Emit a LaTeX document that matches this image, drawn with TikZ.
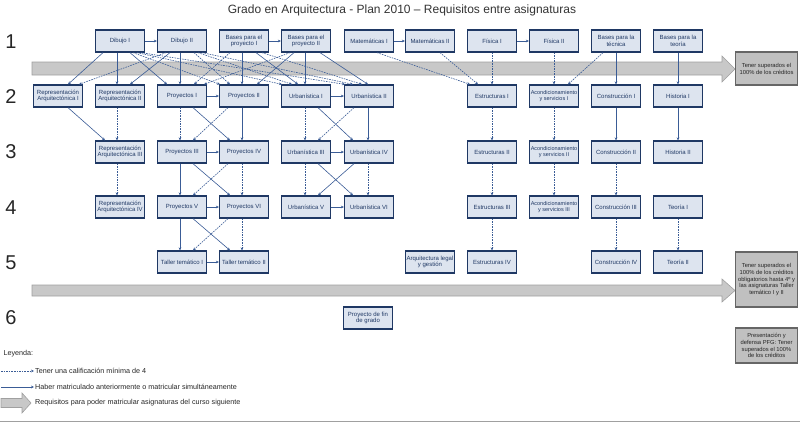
\documentclass[tikz,border=0pt]{standalone}
\usepackage{fontspec}
\setmainfont{Liberation Sans}
\usetikzlibrary{arrows.meta}
\definecolor{navy}{RGB}{31,56,100}
\definecolor{boxfill}{RGB}{221,228,239}
\definecolor{edgeblue}{RGB}{58,92,150}
\definecolor{bandgray}{RGB}{200,200,200}
\definecolor{bandline}{RGB}{160,160,160}
\definecolor{notegray}{RGB}{192,192,192}
\begin{document}
\begin{tikzpicture}[x=1pt,y=-1pt,>={Stealth[length=3pt,width=2.8pt]},
  subject/.style={rectangle, draw=navy, line width=1.3pt, fill=boxfill, minimum width=49pt, minimum height=22pt, inner sep=0.5pt, align=center, text=navy, font=\fontsize{6}{6.8}\selectfont},
  smallsubject/.style={subject, font=\fontsize{5.5}{6.4}\selectfont},
  note/.style={rectangle, draw=black!60, line width=1.2pt, fill=notegray, minimum width=62pt, inner sep=1pt, align=center, text=black!85, font=\fontsize{5.8}{6.9}\selectfont},
  yearlabel/.style={font=\fontsize{20}{20}\selectfont, text=black!85},
  band/.style={fill=bandgray, draw=bandline, line width=0.6pt},
  enrolled/.style={->, draw=edgeblue, line width=0.6pt},
  passed/.style={enrolled, dash pattern=on 1.6pt off 1pt},]
\useasboundingbox (0,0) rectangle (800,424);
% title and year labels
\node[font=\fontsize{12}{13}\selectfont, text=black!80] (title) at (402,10) {Grado en Arquitectura - Plan 2010 -- Requisitos entre asignaturas};
\node[yearlabel] (year1) at (11,42) {1};
\node[yearlabel] (year2) at (11,97) {2};
\node[yearlabel] (year3) at (11,152) {3};
\node[yearlabel] (year4) at (11,208) {4};
\node[yearlabel] (year5) at (11,263) {5};
\node[yearlabel] (year6) at (11,318) {6};
% grey bands
\draw[band] (32,62) -- (722,62) -- (722,56) -- (735,69) -- (722,82) -- (722,75) -- (32,75) -- cycle;
\draw[band] (32,285) -- (722,285) -- (722,279) -- (735,290.5) -- (722,302) -- (722,296) -- (32,296) -- cycle;
\node[note, minimum height=33pt] (note1) at (766.5,68.5) {Tener superados el\\100\% de los créditos};
\node[note, minimum height=55pt] (note2) at (766.5,279.5) {Tener superados el\\100\% de los créditos\\obligatorios hasta 4º y\\las asignaturas Taller\\temático I y II};
\node[note, minimum height=35pt] (note3) at (766.5,345.5) {Presentación y\\defensa PFG: Tener\\superados el 100\%\\de los créditos};
% nodes, year 1
\node[subject] (dib1) at (120,41) {Dibujo I};
\node[subject] (dib2) at (182,41) {Dibujo II};
\node[subject] (bas1) at (244,41) {Bases para el\\proyecto I};
\node[subject] (bas2) at (306,41) {Bases para el\\proyecto II};
\node[subject] (mat1) at (369,41) {Matemáticas I};
\node[subject] (mat2) at (430,41) {Matemáticas II};
\node[subject] (fis1) at (492,41) {Física I};
\node[subject] (fis2) at (554,41) {Física II};
\node[subject] (bastec) at (616,41) {Bases para la\\técnica};
\node[subject] (basteo) at (678,41) {Bases para la\\teoría};
% nodes, year 2
\node[subject] (rep1) at (58,96) {Representación\\Arquitectónica I};
\node[subject] (rep2) at (120,96) {Representación\\Arquitectónica II};
\node[subject] (proy1) at (182,96) {Proyectos I};
\node[subject] (proy2) at (244,96) {Proyectos II};
\node[subject] (urb1) at (306,96) {Urbanística I};
\node[subject] (urb2) at (369,96) {Urbanística II};
\node[subject] (estr1) at (492,96) {Estructuras I};
\node[smallsubject] (acond1) at (554,96) {Acondicionamiento\\y servicios I};
\node[subject] (constr1) at (616,96) {Construcción I};
\node[subject] (hist1) at (678,96) {Historia I};
% nodes, year 3
\node[subject] (rep3) at (120,152) {Representación\\Arquitectónica III};
\node[subject] (proy3) at (182,152) {Proyectos III};
\node[subject] (proy4) at (244,152) {Proyectos IV};
\node[subject] (urb3) at (306,152) {Urbanística III};
\node[subject] (urb4) at (369,152) {Urbanística IV};
\node[subject] (estr2) at (492,152) {Estructuras II};
\node[smallsubject] (acond2) at (554,152) {Acondicionamiento\\y servicios II};
\node[subject] (constr2) at (616,152) {Construcción II};
\node[subject] (hist2) at (678,152) {Historia II};
% nodes, year 4
\node[subject] (rep4) at (120,207) {Representación\\Arquitectónica IV};
\node[subject] (proy5) at (182,207) {Proyectos V};
\node[subject] (proy6) at (244,207) {Proyectos VI};
\node[subject] (urb5) at (306,207) {Urbanística V};
\node[subject] (urb6) at (369,207) {Urbanística VI};
\node[subject] (estr3) at (492,207) {Estructuras III};
\node[smallsubject] (acond3) at (554,207) {Acondicionamiento\\y servicios III};
\node[subject] (constr3) at (616,207) {Construcción III};
\node[subject] (teo1) at (678,207) {Teoría I};
% nodes, year 5 and 6
\node[subject] (tall1) at (182,262) {Taller temático I};
\node[subject] (tall2) at (244,262) {Taller temático II};
\node[subject] (legal) at (430,262) {Arquitectura legal\\y gestión};
\node[subject] (estr4) at (492,262) {Estructuras IV};
\node[subject] (constr4) at (616,262) {Construcción IV};
\node[subject] (teo2) at (678,262) {Teoría II};
\node[subject] (pfg) at (368,318) {Proyecto de fin\\de grado};
% edges, same year
\draw[enrolled] (dib1) -- (dib2);
\draw[enrolled] (bas1) -- (bas2);
\draw[enrolled] (mat1) -- (mat2);
\draw[enrolled] (fis1) -- (fis2);
\draw[enrolled] (proy1) -- (proy2);
\draw[enrolled] (urb1) -- (urb2);
\draw[enrolled] (proy3) -- (proy4);
\draw[enrolled] (urb3) -- (urb4);
\draw[enrolled] (proy5) -- (proy6);
\draw[enrolled] (urb5) -- (urb6);
\draw[enrolled] (tall1) -- (tall2);
% edges, year 1 to year 2
\draw[enrolled] ([xshift=-17pt]dib1.south) -- ([xshift=10pt]rep1.north);
\draw[enrolled] ([xshift=-3pt]dib1.south) -- ([xshift=-3pt]rep2.north);
\draw[enrolled] ([xshift=10pt]dib1.south) -- ([xshift=-15pt]proy1.north);
\draw[passed] ([xshift=13pt]dib1.south) -- ([xshift=-24pt]proy2.north);
\draw[passed] ([xshift=17pt]dib1.south) -- ([xshift=-24pt]urb1.north);
\draw[passed] ([xshift=21pt]dib1.south) -- ([xshift=-24pt]urb2.north);
\draw[passed] ([xshift=-16pt]dib2.south) -- ([xshift=21pt]rep1.north);
\draw[enrolled] ([xshift=-12pt]dib2.south) -- ([xshift=10pt]rep2.north);
\draw[enrolled] ([xshift=-2pt]dib2.south) -- ([xshift=-2pt]proy1.north);
\draw[passed] ([xshift=12pt]dib2.south) -- ([xshift=-14pt]proy2.north);
\draw[passed] ([xshift=16pt]dib2.south) -- ([xshift=-14pt]urb1.north);
\draw[passed] ([xshift=20pt]dib2.south) -- ([xshift=-16pt]urb2.north);
\draw[passed] ([xshift=-14pt]bas1.south) -- ([xshift=12pt]proy1.north);
\draw[enrolled] ([xshift=-2pt]bas1.south) -- ([xshift=-2pt]proy2.north);
\draw[enrolled] ([xshift=12pt]bas1.south) -- ([xshift=-8pt]urb1.north);
\draw[passed] ([xshift=18pt]bas1.south) -- ([xshift=-7pt]urb2.north);
\draw[passed] ([xshift=-16pt]bas2.south) -- ([xshift=22pt]proy1.north);
\draw[enrolled] ([xshift=-12pt]bas2.south) -- ([xshift=13pt]proy2.north);
\draw[enrolled] ([xshift=-1pt]bas2.south) -- ([xshift=-1pt]urb1.north);
\draw[enrolled] ([xshift=14pt]bas2.south) -- ([xshift=-1pt]urb2.north);
\draw[passed] ([xshift=8pt]mat1.south) -- ([xshift=-22pt]estr1.north);
\draw[passed] ([xshift=10pt]mat2.south) -- ([xshift=-14pt]estr1.north);
\draw[passed] (fis1) -- (estr1);
\draw[passed] (fis2) -- (acond1);
\draw[passed] ([xshift=-13pt]bastec.south) -- ([xshift=14pt]acond1.north);
\draw[enrolled] (bastec) -- (constr1);
\draw[enrolled] (basteo) -- (hist1);
% edges, year 2 to year 3
\draw[enrolled] ([xshift=10pt]rep1.south) -- ([xshift=-15pt]rep3.north);
\draw[passed] ([xshift=-3pt]rep2.south) -- ([xshift=-3pt]rep3.north);
\draw[passed] ([xshift=-2pt]proy1.south) -- ([xshift=-2pt]proy3.north);
\draw[enrolled] ([xshift=11pt]proy1.south) -- ([xshift=-14pt]proy4.north);
\draw[passed] ([xshift=-16pt]proy2.south) -- ([xshift=11pt]proy3.north);
\draw[enrolled] ([xshift=-2pt]proy2.south) -- ([xshift=-2pt]proy4.north);
\draw[passed] ([xshift=-1pt]urb1.south) -- ([xshift=-1pt]urb3.north);
\draw[enrolled] ([xshift=12pt]urb1.south) -- ([xshift=-16pt]urb4.north);
\draw[passed] ([xshift=-15pt]urb2.south) -- ([xshift=12pt]urb3.north);
\draw[enrolled] ([xshift=-1pt]urb2.south) -- ([xshift=-1pt]urb4.north);
\draw[passed] (estr1) -- (estr2);
\draw[passed] (acond1) -- (acond2);
\draw[enrolled] (constr1) -- (constr2);
\draw[enrolled] (hist1) -- (hist2);
% edges, year 3 to year 4
\draw[passed] ([xshift=-3pt]rep3.south) -- ([xshift=-3pt]rep4.north);
\draw[enrolled] ([xshift=-2pt]proy3.south) -- ([xshift=-2pt]proy5.north);
\draw[enrolled] ([xshift=11pt]proy3.south) -- ([xshift=-14pt]proy6.north);
\draw[passed] ([xshift=-16pt]proy4.south) -- ([xshift=11pt]proy5.north);
\draw[passed] ([xshift=-2pt]proy4.south) -- ([xshift=-2pt]proy6.north);
\draw[passed] ([xshift=-1pt]urb3.south) -- ([xshift=-1pt]urb5.north);
\draw[enrolled] ([xshift=12pt]urb3.south) -- ([xshift=-16pt]urb6.north);
\draw[enrolled] ([xshift=-15pt]urb4.south) -- ([xshift=12pt]urb5.north);
\draw[passed] ([xshift=-1pt]urb4.south) -- ([xshift=-1pt]urb6.north);
\draw[passed] (estr2) -- (estr3);
\draw[passed] (acond2) -- (acond3);
\draw[passed] (constr2) -- (constr3);
% edges, year 4 to year 5
\draw[enrolled] ([xshift=-2pt]proy5.south) -- ([xshift=-2pt]tall1.north);
\draw[enrolled] ([xshift=11pt]proy5.south) -- ([xshift=-14pt]tall2.north);
\draw[passed] ([xshift=-16pt]proy6.south) -- ([xshift=11pt]tall1.north);
\draw[passed] ([xshift=-2pt]proy6.south) -- ([xshift=-2pt]tall2.north);
\draw[passed] (estr3) -- (estr4);
\draw[passed] (constr3) -- (constr4);
\draw[passed] (teo1) -- (teo2);
% legend
\node[anchor=west, font=\fontsize{7.2}{8}\selectfont, text=black!85] (legtitle) at (0,354) {Leyenda:};
\coordinate (legpass) at (1,371);
\node[anchor=west, inner sep=1pt, font=\fontsize{7.2}{8}\selectfont, text=black!85] (legpasstext) at (34,371) {Tener una calificación mínima de 4};
\coordinate (legenrol) at (1,387);
\node[anchor=west, inner sep=1pt, font=\fontsize{7.2}{8}\selectfont, text=black!85] (legenroltext) at (34,387) {Haber matriculado anteriormente o matricular simultáneamente};
\node[anchor=west, inner sep=1pt, font=\fontsize{7.2}{8}\selectfont, text=black!85] (legbandtext) at (34,403) {Requisitos para poder matricular asignaturas del curso siguiente};
\draw[passed] (legpass) -- (legpasstext.west);
\draw[enrolled] (legenrol) -- (legenroltext.west);
\draw[band] (1,398.5) -- (22,398.5) -- (22,393) -- (31,403) -- (22,413) -- (22,407.5) -- (1,407.5) -- cycle;
\draw[bandline, line width=0.8pt] (0,421) -- (800,421);
\end{tikzpicture}
\end{document}
